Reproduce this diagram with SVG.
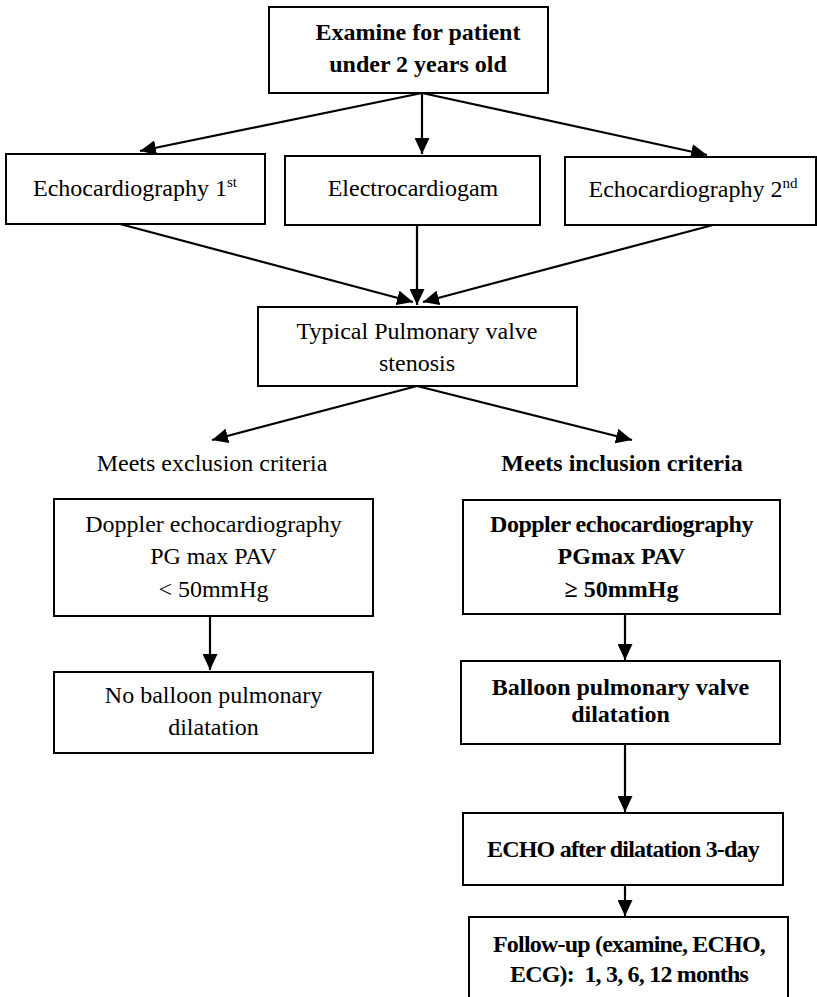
<svg xmlns="http://www.w3.org/2000/svg" width="817" height="997" viewBox="0 0 817 997">
<style>
.box{fill:#fff;stroke:#000;stroke-width:2}
.t{font-family:"Liberation Serif","Times New Roman",serif;font-size:24px;fill:#000;text-anchor:middle}
.b{font-weight:bold}
.c{letter-spacing:-0.8px}
.sup{font-size:15px}
.ln{stroke:#000;stroke-width:2.2;fill:none;marker-end:url(#ah)}
</style>
<defs>
<marker id="ah" markerUnits="userSpaceOnUse" markerWidth="17" markerHeight="15" refX="16" refY="7.5" orient="auto">
<path d="M0,0 L16,7.5 L0,15 z" fill="#000"/>
</marker>
</defs>
<rect width="817" height="997" fill="#fff"/>
<g id="connectors">
<line class="ln" x1="422" y1="93" x2="140" y2="151"/>
<line class="ln" x1="422" y1="93" x2="422" y2="154"/>
<line class="ln" x1="422" y1="93" x2="707" y2="155"/>
<line class="ln" x1="120" y1="224" x2="413" y2="302"/>
<line class="ln" x1="417" y1="225" x2="417" y2="305"/>
<line class="ln" x1="713" y1="225" x2="423" y2="302"/>
<line class="ln" x1="417" y1="386" x2="212" y2="440"/>
<line class="ln" x1="417" y1="386" x2="632" y2="440"/>
<line class="ln" x1="210" y1="616" x2="210" y2="670"/>
<line class="ln" x1="625" y1="614" x2="625" y2="660"/>
<line class="ln" x1="625" y1="744" x2="625" y2="812"/>
<line class="ln" x1="625" y1="885" x2="625" y2="916"/>
</g>
<g id="n-examine">
<rect class="box" x="269" y="7" width="279" height="86"/>
<text class="t b" x="418" y="40">Examine for patient</text>
<text class="t b" x="418" y="72">under 2 years old</text>
</g>
<g id="n-echo1">
<rect class="box" x="6" y="154" width="259" height="70"/>
<text class="t" x="135" y="196">Echocardiography 1<tspan class="sup" dy="-9">st</tspan></text>
</g>
<g id="n-ecg">
<rect class="box" x="285" y="156" width="255" height="69"/>
<text class="t" x="413" y="196">Electrocardiogam</text>
</g>
<g id="n-echo2">
<rect class="box" x="565" y="157" width="251" height="68"/>
<text class="t" x="693" y="197">Echocardiography 2<tspan class="sup" dy="-9">nd</tspan></text>
</g>
<g id="n-typical">
<rect class="box" x="258" y="307" width="319" height="79"/>
<text class="t" x="417" y="339">Typical Pulmonary valve</text>
<text class="t" x="417" y="371">stenosis</text>
</g>
<g id="n-exclusion">
<text class="t" x="212" y="471">Meets exclusion criteria</text>
</g>
<g id="n-inclusion">
<text class="t b" x="622" y="471">Meets inclusion criteria</text>
</g>
<g id="n-doppler-low">
<rect class="box" x="54" y="499" width="319" height="117"/>
<text class="t" x="213.5" y="532">Doppler echocardiography</text>
<text class="t" x="213.5" y="564">PG max PAV</text>
<text class="t" x="213.5" y="597">&lt; 50mmHg</text>
</g>
<g id="n-no-balloon">
<rect class="box" x="54" y="672" width="319" height="81"/>
<text class="t" x="213.5" y="703">No balloon pulmonary</text>
<text class="t" x="213.5" y="735">dilatation</text>
</g>
<g id="n-doppler-high">
<rect class="box" x="463" y="500" width="317" height="114"/>
<text class="t b" x="621.5" y="532" style="letter-spacing:-0.5px">Doppler echocardiography</text>
<text class="t b" x="621.5" y="564">PGmax PAV</text>
<text class="t b" x="621.5" y="597">≥ 50mmHg</text>
</g>
<g id="n-balloon">
<rect class="box" x="461" y="661" width="319" height="83"/>
<text class="t b" x="620.5" y="695">Balloon pulmonary valve</text>
<text class="t b" x="620.5" y="722">dilatation</text>
</g>
<g id="n-echo-after">
<rect class="box" x="463" y="813" width="320" height="72"/>
<text class="t b c" x="623" y="857">ECHO after dilatation 3-day</text>
</g>
<g id="n-followup">
<rect class="box" x="469" y="917" width="319" height="120"/>
<text class="t b c" x="629" y="952">Follow-up (examine, ECHO,</text>
<text class="t b c" x="629" y="982" style="white-space:pre">ECG):  1, 3, 6, 12 months</text>
</g>
</svg>
